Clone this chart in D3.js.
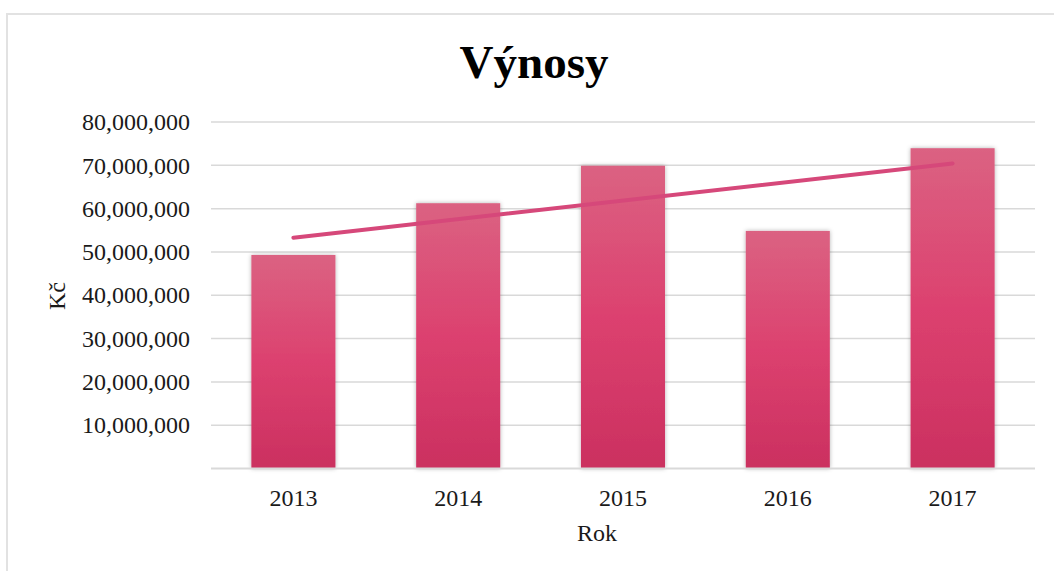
<!DOCTYPE html>
<html>
<head>
<meta charset="utf-8">
<script src="https://cdn.jsdelivr.net/npm/d3@7"></script>
<style>
  body { margin: 0; background: #fff; }
  svg { display: block; font-family: "Liberation Serif", "Times New Roman", serif; }
</style>
</head>
<body>
<div id="chart"></div>
<script>
// data
var years = ["2013", "2014", "2015", "2016", "2017"];
var vynosy = [49300000, 61250000, 69900000, 54850000, 73950000];
var yTicks = [10000000, 20000000, 30000000, 40000000, 50000000, 60000000, 70000000, 80000000];

var W = 1054, H = 571;
var margin = { top: 122, right: 19, bottom: 102.5, left: 211 },
    width = W - margin.left - margin.right,
    height = H - margin.top - margin.bottom;

var svg = d3.select("#chart")
    .append("svg")
    .attr("width", W)
    .attr("height", H);

// outer frame
svg.append("rect")
    .attr("x", 7).attr("y", 14)
    .attr("width", W + 20).attr("height", H + 20)
    .style("fill", "none")
    .style("stroke", "#e2e2e2")
    .style("stroke-width", 2);

var defs = svg.append("defs");
var grad = defs.append("linearGradient")
    .attr("id", "barGrad")
    .attr("x1", 0).attr("y1", 0).attr("x2", 0).attr("y2", 1);
grad.append("stop").attr("offset", "0%").attr("stop-color", "#db6282");
grad.append("stop").attr("offset", "50%").attr("stop-color", "#dc416f");
grad.append("stop").attr("offset", "100%").attr("stop-color", "#cb3060");

var shadow = defs.append("filter").attr("id", "shadow")
    .attr("x", "-20%").attr("y", "-10%").attr("width", "140%").attr("height", "120%");
shadow.append("feDropShadow")
    .attr("dx", 0).attr("dy", 0).attr("stdDeviation", 2)
    .attr("flood-color", "#000").attr("flood-opacity", 0.3);

var g = svg.append("g")
    .attr("transform", "translate(" + margin.left + "," + margin.top + ")");

var x = d3.scaleBand()
    .domain(years)
    .range([0, width])
    .paddingInner(0.49)
    .paddingOuter(0.245);

var y = d3.scaleLinear()
    .domain([0, 80000000])
    .range([height, 0]);

// gridlines
g.append("g")
    .selectAll("line")
    .data(yTicks)
    .enter()
    .append("line")
    .attr("x1", 0).attr("x2", width)
    .attr("y1", function (d) { return y(d); })
    .attr("y2", function (d) { return y(d); })
    .style("stroke", "#d9d9d9")
    .style("stroke-width", 1.5);

// y axis labels
var fmt = d3.format(",");
var yaxis = g.append("g")
    .attr("transform", "translate(-21,0)")
    .call(d3.axisLeft(y).tickValues(yTicks).tickFormat(fmt).tickSize(0).tickPadding(0));
yaxis.select(".domain").remove();
yaxis.selectAll("text")
    .style("font-family", "Liberation Serif, serif")
    .style("font-size", "24px")
    .style("fill", "#1a1a1a");

// bars
g.append("g")
    .selectAll("rect")
    .data(vynosy)
    .enter()
    .append("rect")
    .attr("x", function (d, i) { return x(years[i]); })
    .attr("y", function (d) { return y(d); })
    .attr("width", x.bandwidth())
    .attr("height", function (d) { return height - y(d); })
    .style("fill", "url(#barGrad)")
    .attr("filter", "url(#shadow)");

// baseline
g.append("line")
    .attr("x1", 0).attr("x2", width)
    .attr("y1", height).attr("y2", height)
    .style("stroke", "#d9d9d9")
    .style("stroke-width", 2);

// x axis labels
var xaxis = g.append("g")
    .attr("transform", "translate(0," + height + ")")
    .call(d3.axisBottom(x).tickSize(0).tickPadding(20));
xaxis.select(".domain").remove();
xaxis.selectAll("text")
    .style("font-family", "Liberation Serif, serif")
    .style("font-size", "24px")
    .style("fill", "#1a1a1a");

// linear trendline
function calcLinear(vals) {
    var n = vals.length;
    var xm = d3.mean(vals, function (d, i) { return i; });
    var ym = d3.mean(vals);
    var num = 0, den = 0;
    vals.forEach(function (v, i) {
        num += (i - xm) * (v - ym);
        den += (i - xm) * (i - xm);
    });
    var m = num / den;
    var b = ym - m * xm;
    return { a: b, b: m * (n - 1) + b };
}
var lg = calcLinear(vynosy);
var cx = function (i) { return x(years[i]) + x.bandwidth() / 2; };
g.append("line")
    .attr("x1", cx(0))
    .attr("y1", y(lg.a))
    .attr("x2", cx(years.length - 1))
    .attr("y2", y(lg.b))
    .style("stroke", "#d6487a")
    .style("stroke-width", 4)
    .style("stroke-linecap", "round");

// title
svg.append("text")
    .attr("x", 534)
    .attr("y", 78)
    .style("text-anchor", "middle")
    .style("font-size", "47px")
    .style("font-weight", "bold")
    .style("fill", "#000")
    .text("Výnosy");

// axis titles
svg.append("text")
    .attr("x", 597)
    .attr("y", 541)
    .style("text-anchor", "middle")
    .style("font-size", "24px")
    .style("fill", "#1a1a1a")
    .text("Rok");

svg.append("text")
    .attr("transform", "translate(65,296) rotate(-90)")
    .style("text-anchor", "middle")
    .style("font-size", "24px")
    .style("fill", "#1a1a1a")
    .text("Kč");
</script>
</body>
</html>
